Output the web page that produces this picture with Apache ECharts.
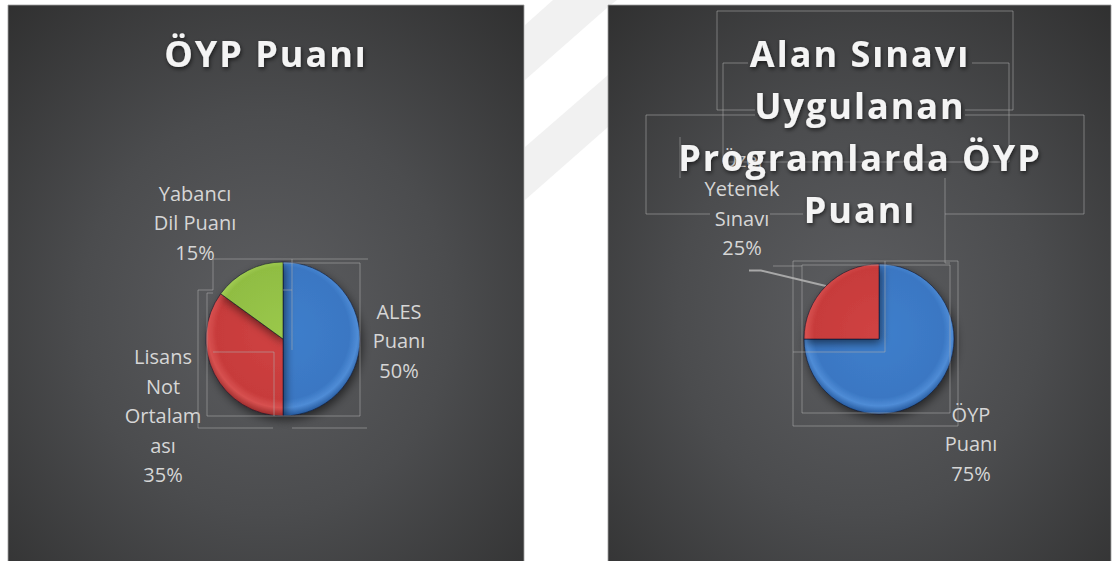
<!DOCTYPE html>
<html>
<head>
<meta charset="utf-8">
<script src="https://cdn.jsdelivr.net/npm/echarts@6/dist/echarts.min.js"></script>
<style>
html, body { margin: 0; padding: 0; background: #ffffff; }
#main { width: 1115px; height: 561px; }
#main text[style*="bold"], #main text[font-weight="bold"] { letter-spacing: 2px; }
</style>
</head>
<body>
<div id="main"></div>
<script>
// ---------- data ----------
const leftTitle = 'ÖYP Puanı';
const leftCategories = ['ALES Puanı', 'Lisans Not Ortalaması', 'Yabancı Dil Puanı'];
const leftLabelLines = [['ALES', 'Puanı'], ['Lisans', 'Not', 'Ortalam', 'ası'], ['Yabancı', 'Dil Puanı']];
const leftValues = [50, 35, 15];

const rightTitleLines = ['Alan Sınavı', 'Uygulanan', 'Programlarda ÖYP', 'Puanı'];
const rightCategories = ['ÖYP Puanı', 'Özel Yetenek Sınavı'];
const rightLabelLines = [['ÖYP', 'Puanı'], ['Özel', 'Yetenek', 'Sınavı']];
const rightValues = [75, 25];

// ---------- layout / style ----------
const FONT = '"Open Sans", "Noto Sans", sans-serif';
const L = { cx: 283, cy: 339, r: 77, labelOffsets: [[116, 1.5], [-120, 76.5], [-88, -116.5]] };
const R = { cx: 879, cy: 339, r: 75, labelOffsets: [[92, 104.5], [-137, -135.5]] };
const leaderOffsets = [[19, 67], [7, 67]]; // relative to label centre (right pie, 2nd label)

const palette = {
  blue:  ['#3f7fcc', '#3a77c3', '#4f8cd6', '#24589c'],
  red:   ['#d04343', '#c73b3b', '#d75150', '#9a2a2a'],
  green: ['#9ac84b', '#90bd43', '#a8d25a', '#6b8f2e']
};
const leftColors = ['blue', 'red', 'green'];
const rightColors = ['blue', 'red'];

function sliceFill(p, name) {
  const c = palette[name];
  return {
    type: 'radial', x: p.cx, y: p.cy - 6, r: p.r + 6, global: true,
    colorStops: [
      { offset: 0, color: c[0] },
      { offset: 0.8, color: c[1] },
      { offset: 0.9, color: c[2] },
      { offset: 1, color: c[3] }
    ]
  };
}

function labelFormatter(lines) {
  return function (p) {
    return lines[p.dataIndex].concat([Math.round(p.percent) + '%'])
      .map(function (s) { return '{c|' + s + '}'; }).join('\n');
  };
}

const labelBase = {
  show: true,
  position: 'outside',
  color: '#d6d6d6',
  fontFamily: FONT,
  fontSize: 20,
  lineHeight: 29.5,
  rich: { c: { align: 'center', color: '#d6d6d6', fontFamily: FONT, fontSize: 20, lineHeight: 29.5 } }
};

const itemBase = {
  borderColor: 'rgba(15,20,40,0.55)',
  borderWidth: 1,
  shadowBlur: 10,
  shadowColor: 'rgba(0,0,0,0.55)',
  shadowOffsetX: 2,
  shadowOffsetY: 4
};

const panelFill = {
  type: 'radial', x: 0.5, y: 0.55, r: 0.8,
  colorStops: [
    { offset: 0, color: '#5d5e61' },
    { offset: 0.45, color: '#4b4c4e' },
    { offset: 1, color: '#2c2c2c' }
  ]
};

const frameLines = [
  // left chart
  [[213, 290], [213, 259], [368, 259]],
  [[213, 290], [198, 290], [198, 428], [273, 428]],
  [[292, 428], [367, 428]],
  [[213, 293], [207, 293], [207, 416], [360, 416], [360, 263], [283, 263]],
  [[283, 290], [292, 290]],
  [[292, 259], [292, 350]],
  [[213, 352], [274, 352], [274, 416]],
  // right chart
  [[755, 110], [717, 110], [717, 11], [1013, 11], [1013, 110], [965, 110]],
  [[748, 63], [723, 63], [723, 162], [1009, 162], [1009, 63], [972, 63]],
  [[755, 115], [646, 115], [646, 214], [710, 214]],
  [[770, 214], [803, 214]],
  [[965, 115], [1084, 115], [1084, 214], [945, 214]],
  [[680, 137], [680, 178]],
  [[945, 178], [945, 263], [950, 263]],
  [[793, 261], [958, 261], [958, 426], [793, 426], [793, 261]],
  [[802, 265], [950, 265], [950, 413], [802, 413], [802, 265]],
  [[885, 261], [885, 352], [793, 352]],
  [[773, 266], [802, 266]]
];

const watermark = [
  [[525, 25], [553, 0], [617, 0], [608, 7], [525, 80]],
  [[525, 147], [608, 75], [608, 127], [525, 200]]
];

const graphics = [];
watermark.forEach(function (pts) {
  graphics.push({ type: 'polygon', z: -10, silent: true, shape: { points: pts }, style: { fill: '#f1f1f1' } });
});
graphics.push({
  type: 'rect', z: -5, silent: true,
  shape: { x: 8, y: 5, width: 516, height: 560 },
  style: { fill: panelFill, stroke: 'rgba(160,160,160,0.8)', lineWidth: 1 }
});
graphics.push({
  type: 'rect', z: -5, silent: true,
  shape: { x: 608, y: 5, width: 503, height: 560 },
  style: { fill: panelFill, stroke: 'rgba(160,160,160,0.8)', lineWidth: 1 }
});
frameLines.forEach(function (pts) {
  graphics.push({
    type: 'polyline', z: 20, silent: true, shape: { points: pts },
    style: { stroke: 'rgba(175,175,175,0.55)', lineWidth: 1, fill: null }
  });
});
const titleStyle = {
  fill: '#f4f4f4',
  font: 'bold 36px ' + FONT,
  align: 'center', textAlign: 'center',
  verticalAlign: 'middle', textVerticalAlign: 'middle',
  textShadowColor: 'rgba(0,0,0,0.6)', textShadowBlur: 4,
  textShadowOffsetX: 1, textShadowOffsetY: 2
};
graphics.push({
  type: 'text', z: 30, silent: true,
  style: Object.assign({}, titleStyle, { text: leftTitle, x: 266, y: 53 })
});
graphics.push({
  type: 'text', z: 30, silent: true,
  style: Object.assign({}, titleStyle, { text: rightTitleLines.join('\n'), x: 860, y: 131.5, lineHeight: 52 })
});

const chart = echarts.init(document.getElementById('main'), null, { renderer: 'svg', width: 1115, height: 561 });

chart.setOption({
  animation: false,
  backgroundColor: '#ffffff',
  graphic: { elements: graphics },
  series: [
    {
      type: 'pie',
      silent: true,
      center: [L.cx, L.cy],
      radius: L.r,
      startAngle: 90,
      clockwise: true,
      avoidLabelOverlap: false,
      data: leftCategories.map(function (n, i) {
        return { name: n, value: leftValues[i], itemStyle: Object.assign({ color: sliceFill(L, leftColors[i]) }, itemBase) };
      }),
      label: Object.assign({ formatter: labelFormatter(leftLabelLines) }, labelBase),
      labelLine: { show: false },
      labelLayout: function (p) {
        const o = L.labelOffsets[p.dataIndex];
        return { x: L.cx + o[0], y: L.cy + o[1], align: 'center', verticalAlign: 'middle' };
      },
      emphasis: { disabled: true }
    },
    {
      type: 'pie',
      silent: true,
      center: [R.cx, R.cy],
      radius: R.r,
      startAngle: 90,
      clockwise: true,
      avoidLabelOverlap: false,
      data: rightCategories.map(function (n, i) {
        const d = { name: n, value: rightValues[i], itemStyle: Object.assign({ color: sliceFill(R, rightColors[i]) }, itemBase) };
        if (i === 1) d.labelLine = { show: true, lineStyle: { color: '#a8a8a8', width: 2 } };
        return d;
      }),
      label: Object.assign({ formatter: labelFormatter(rightLabelLines) }, labelBase),
      labelLine: { show: false, length: 20, length2: 10 },
      labelLayout: function (p) {
        const o = R.labelOffsets[p.dataIndex];
        const x = R.cx + o[0], y = R.cy + o[1];
        const res = { x: x, y: y, align: 'center', verticalAlign: 'middle' };
        if (p.dataIndex === 1) {
          let start;
          if (p.labelLinePoints && p.labelLinePoints[0]) {
            start = p.labelLinePoints[0];
          } else {
            const a = -Math.PI / 2 - Math.PI / 4;
            start = [R.cx + R.r * Math.cos(a), R.cy + R.r * Math.sin(a)];
          }
          res.labelLinePoints = [
            start,
            [x + leaderOffsets[0][0], y + leaderOffsets[0][1]],
            [x + leaderOffsets[1][0], y + leaderOffsets[1][1]]
          ];
        }
        return res;
      },
      emphasis: { disabled: true }
    }
  ]
});
</script>
</body>
</html>
